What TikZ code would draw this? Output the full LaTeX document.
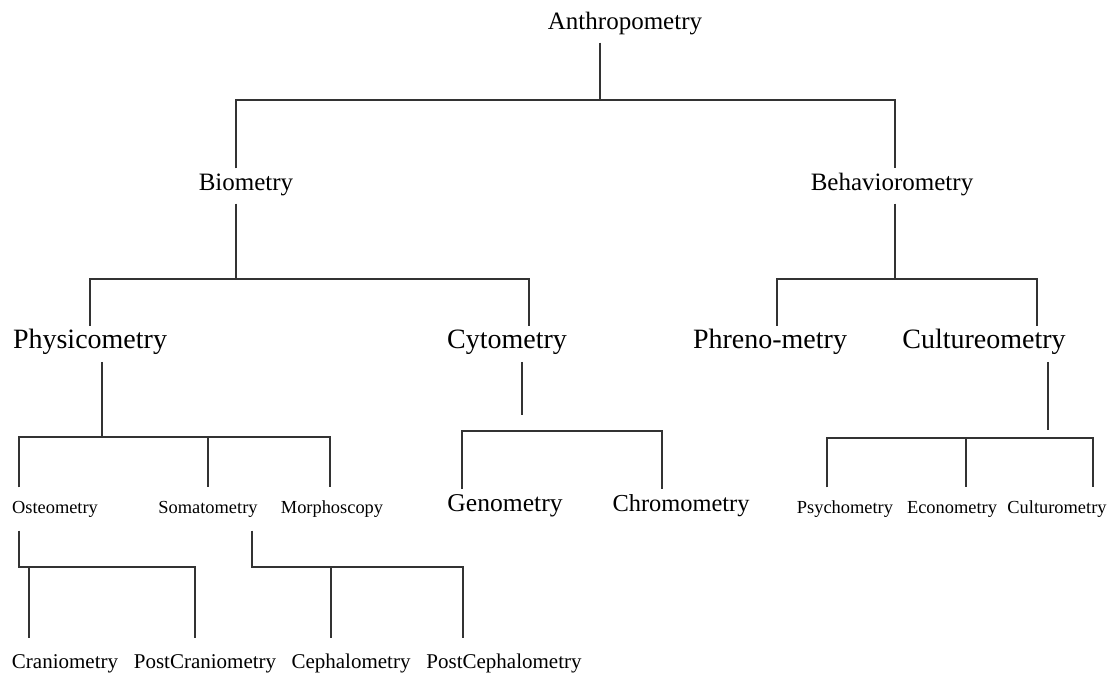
\documentclass[tikz,border=0pt]{standalone}
\usepackage{fontspec}
\setmainfont{Liberation Serif}
\usepackage{tikz}
\usetikzlibrary{positioning,calc}

\tikzset{
	lvlone/.style={inner xsep=0pt, inner ysep=4pt, text height=0.7em, text depth=0.22em, font=\fontsize{12.5}{15}\selectfont},
	lvltwo/.style={inner xsep=0pt, inner ysep=4.2pt, text height=0.7em, text depth=0.22em, font=\fontsize{14}{17}\selectfont},
	lvlthree/.style={inner xsep=0pt, inner ysep=6pt, text height=0.7em, text depth=0.22em, font=\fontsize{9.2}{11}\selectfont},
	lvlfour/.style={inner xsep=0pt, inner ysep=8pt, text height=0.7em, text depth=0.22em, font=\fontsize{10.5}{13}\selectfont},
	link/.style={draw=black!80, line width=0.8pt}
}

\begin{document}
\begin{tikzpicture}[x=0.5pt,y=-0.5pt]
		\useasboundingbox (0,0) rectangle (1118,673);

		% top levels
		\node[lvlone] (anthro) at (625,25) {Anthropometry};
		\node[lvlone] (bio) at (246,186) {Biometry};
		\node[lvlone] (behav) at (892,186) {Behaviorometry};

		\node[lvltwo] (physico) at (90,344) {Physicometry};
		\node[lvltwo] (cyto) at (507,344) {Cytometry};
		\node[lvltwo] (phreno) at (770,344) {Phreno-metry};
		\node[lvltwo] (culture) at (984,344) {Cultureometry};

		% third level
		\node[lvlthree] (osteo) at (55,509) {Osteometry};
		\node[lvlthree] (somato) at (208,509) {Somatometry};
		\node[lvlthree] (morpho) at (332,509) {Morphoscopy};
		\node[lvltwo, font=\fontsize{12.8}{15}\selectfont] (geno) at (505,507) {Genometry};
		\node[lvltwo, font=\fontsize{12.2}{15}\selectfont] (chromo) at (681,507) {Chromometry};
		\node[lvlthree] (psycho) at (845,509) {Psychometry};
		\node[lvlthree] (econo) at (952,509) {Econometry};
		\node[lvlthree] (culturo) at (1057,509) {Culturometry};

		% bottom level
		\node[lvlfour] (cranio) at (65,664) {Craniometry};
		\node[lvlfour] (postcranio) at (205,664) {PostCraniometry};
		\node[lvlfour] (cephalo) at (351,664) {Cephalometry};
		\node[lvlfour] (postcephalo) at (504,664) {PostCephalometry};

		% bus points
		\coordinate (tA) at (600,100);
		\coordinate (tL) at (236,100);
		\coordinate (tR) at (895,100);

		\coordinate (bM) at (236,279);
		\coordinate (bL) at (90,279);
		\coordinate (bR) at (529,279);

		\coordinate (hM) at (895,279);
		\coordinate (hL) at (777,279);
		\coordinate (hR) at (1037,279);

		\coordinate (pM) at (102,437);
		\coordinate (pL) at (19,437);
		\coordinate (pC) at (208,437);
		\coordinate (pR) at (330,437);

		\coordinate (cS) at (522,415);
		\coordinate (cL) at (462,431);
		\coordinate (cR) at (662,431);

		\coordinate (uS) at (1048,430);
		\coordinate (uL) at (827,438);
		\coordinate (uC) at (966,438);
		\coordinate (uR) at (1093,438);

		\coordinate (oL) at (19,567);
		\coordinate (oA) at (29,567);
		\coordinate (oR) at (195,567);

		\coordinate (sL) at (252,567);
		\coordinate (sC) at (331,567);
		\coordinate (sR) at (463,567);

		% connectors
		\draw[link] (anthro.south -| tA) -- (tA);
		\draw[link] (bio.north -| tL) -- (tL) -- (tR) -- (behav.north -| tR);

		\draw[link] (bio.south -| bM) -- (bM);
		\draw[link] (physico.north -| bL) -- (bL) -- (bR) -- (cyto.north -| bR);
		\draw[link] (behav.south -| hM) -- (hM);
		\draw[link] (phreno.north -| hL) -- (hL) -- (hR) -- (culture.north -| hR);

		\draw[link] (physico.south -| pM) -- (pM);
		\draw[link] (osteo.north -| pL) -- (pL) -- (pR) -- (morpho.north -| pR);
		\draw[link] (pC) -- (somato.north -| pC);

		\draw[link] (cyto.south -| cS) -- (cS);
		\draw[link] (geno.north -| cL) -- (cL) -- (cR) -- (chromo.north -| cR);

		\draw[link] (culture.south -| uS) -- (uS);
		\draw[link] (psycho.north -| uL) -- (uL) -- (uR) -- (culturo.north -| uR);
		\draw[link] (uC) -- (econo.north -| uC);

		\draw[link] (osteo.south -| oL) -- (oL) -- (oR) -- (postcranio.north -| oR);
		\draw[link] (oA) -- (cranio.north -| oA);
		\draw[link] (somato.south -| sL) -- (sL) -- (sR) -- (postcephalo.north -| sR);
		\draw[link] (sC) -- (cephalo.north -| sC);

	\end{tikzpicture}
\end{document}
